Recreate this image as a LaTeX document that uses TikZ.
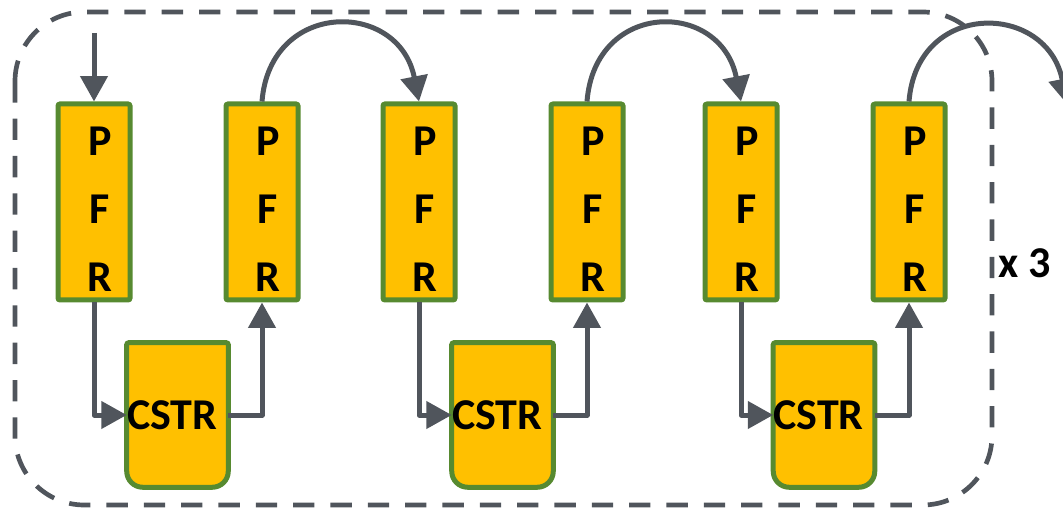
\documentclass[tikz,border=0pt]{standalone}
\usepackage{fontspec}
\setmainfont{Carlito}
\usetikzlibrary{arrows.meta,backgrounds}
\definecolor{ink}{HTML}{50555C}
\definecolor{amber}{HTML}{FFC000}
\definecolor{leaf}{HTML}{578A30}

\begin{document}
\begin{tikzpicture}[x=0.75pt,y=-0.75pt,font=\bfseries,
    >={Triangle[length=19pt,width=20pt]},
    pfr/.style={draw=leaf,fill=amber,line width=3.75pt,rounded corners=1.5pt,
      minimum width=54pt,minimum height=147pt,inner sep=0pt},
    letters/.style={align=center,inner sep=0pt,
      font=\fontsize{33}{51}\selectfont\bfseries},
    cstr/.style={text width=75.75pt,minimum height=108pt,inner sep=0pt,
      align=left,font=\fontsize{33}{40}\selectfont\bfseries},
    tank/.style={draw=leaf,fill=amber,line width=3.75pt},
    flow/.style={draw=ink,line width=3.75pt,line join=round,->},
    stage/.style={draw=ink,line width=3.5pt,dash pattern=on 16pt off 12pt,
      rounded corners=52pt}]
  \useasboundingbox (0,0) rectangle (1063,509);
  \draw[stage] (15,12) rectangle (992,505);
  \foreach \i/\x in {1/94,2/262,3/419,4/587,5/741,6/909}{
    \node[pfr] (p\i) at (\x,202) {};
    \node[letters] (t\i) at ([shift={(6,7)}]p\i.center) {P\\F\\R};
  }
  \node[cstr] (c1) at (177.5,415) {CSTR};
  \node[cstr] (c2) at (502.5,415) {CSTR};
  \node[cstr] (c3) at (824,415) {CSTR};
  \begin{scope}[on background layer]
    \foreach \c in {c1,c2,c3}
      \draw[tank] (\c.north west) [rounded corners=12pt] -- (\c.south west)
        -- (\c.south east) [rounded corners=1.5pt] -- (\c.north east) -- cycle;
  \end{scope}
  \node[font=\fontsize{33}{40}\selectfont\bfseries] (reps) at (1025,263) {x 3};
  \coordinate (in) at (94,33);
  \coordinate (out) at (1067,104);
  \draw[flow] (in) -- (p1.north);
  \draw[flow] (p1.south) |- (c1.west);
  \draw[flow] (c1.east) -| (p2.south);
  \draw[flow] (p2.north) .. controls +(8,-102) and +(-20,-102) .. (p3.north);
  \draw[flow] (p3.south) |- (c2.west);
  \draw[flow] (c2.east) -| (p4.south);
  \draw[flow] (p4.north) .. controls +(8,-102) and +(-20,-102) .. (p5.north);
  \draw[flow] (p5.south) |- (c3.west);
  \draw[flow] (c3.east) -| (p6.south);
  \draw[flow] (p6.north) .. controls +(8,-102) and +(-20,-102) .. (out);
\end{tikzpicture}
\end{document}
